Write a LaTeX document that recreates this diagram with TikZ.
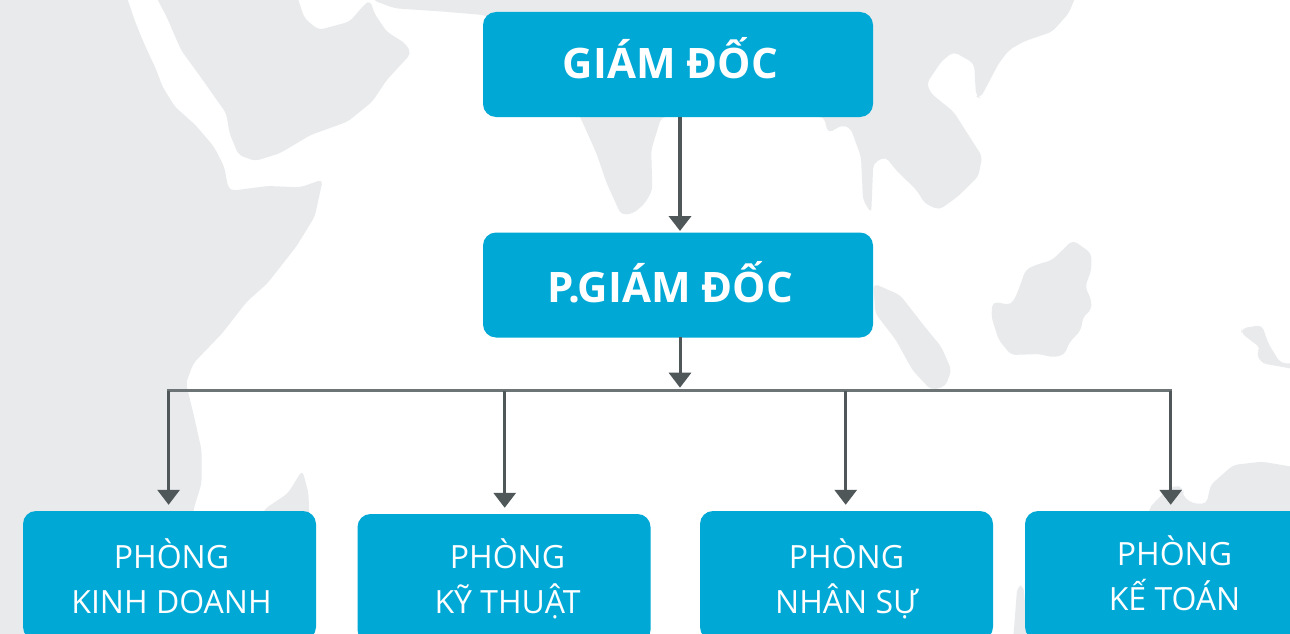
\documentclass[tikz,border=0pt]{standalone}
\usepackage{fontspec}
\setmainfont{Open Sans}
\usetikzlibrary{arrows.meta}
\definecolor{land}{HTML}{E8EAEC}
\definecolor{boxblue}{HTML}{00A8D6}
\definecolor{wire}{HTML}{4F5759}
\definecolor{bus}{HTML}{6C7476}
\tikzset{
  landpart/.style={fill=land,draw=none,rounded corners=5pt},
  topbox/.style={fill=boxblue,draw=none,rounded corners=13pt,minimum width=390pt,minimum height=105pt,inner sep=0pt},
  deptbox/.style={fill=boxblue,draw=none,rounded corners=13pt,minimum width=293pt,minimum height=129pt,inner sep=0pt},
  toptext/.style={text=white,font=\fontsize{42}{50}\selectfont\bfseries,inner sep=0pt},
  depttext/.style={text=white,font=\fontsize{32}{45}\selectfont,align=center,inner sep=0pt},
  tipped/.style={draw=wire,-{Triangle[length=15pt,width=22pt,fill=wire]}},
}
\begin{document}
\begin{tikzpicture}[x=1pt,y=-1pt]
\clip (0,0) rectangle (1290,634);
\fill[white] (0,0) rectangle (1290,634);
\begin{scope}[x=0.41135pt,y=-0.33333pt]
\fill[landpart] (-20,-20) -- (305,-20) -- (330,70) -- (350,130) -- (380,210) -- (395,260) -- (425,320) -- (475,375) -- (520,440) -- (545,500) -- (555,565) -- (565,572) -- (650,558) -- (730,562) -- (785,538) -- (765,650) -- (720,740) -- (650,850) -- (600,905) -- (540,1000) -- (470,1090) -- (452,1150) -- (470,1240) -- (490,1350) -- (490,1450) -- (470,1530) -- (470,1920) -- (-20,1920) -- cycle;
\fill[landpart] (640,1530) -- (700,1480) -- (735,1410) -- (750,1480) -- (752,1560) -- (640,1560) -- cycle;
\fill[landpart] (375,-20) -- (405,50) -- (440,150) -- (490,235) -- (550,340) -- (558,400) -- (580,465) -- (620,483) -- (680,460) -- (755,405) -- (845,365) -- (905,305) -- (940,240) -- (1000,160) -- (985,130) -- (940,95) -- (910,40) -- (900,0) -- (885,15) -- (850,65) -- (775,90) -- (740,55) -- (720,-20) -- cycle;
\fill[landpart] (905,-20) -- (905,0) -- (960,25) -- (1080,35) -- (1175,45) -- (1300,100) -- (1410,350) -- (1450,460) -- (1475,550) -- (1510,645) -- (1540,640) -- (1568,610) -- (1586,570) -- (1583,450) -- (1608,350) -- (2003,350) -- (2013,400) -- (2048,375) -- (2068,385) -- (2093,470) -- (2098,600) -- (2118,640) -- (2123,490) -- (2153,470) -- (2178,510) -- (2228,570) -- (2248,610) -- (2283,630) -- (2328,590) -- (2378,530) -- (2388,470) -- (2318,335) -- (2263,280) -- (2253,250) -- (2288,185) -- (2318,155) -- (2368,190) -- (2373,290) -- (2383,295) -- (2428,190) -- (2453,150) -- (2488,125) -- (2558,95) -- (2598,40) -- (2618,-20) -- cycle;
\fill[landpart] (2123,850) -- (2188,885) -- (2248,980) -- (2288,1040) -- (2313,1110) -- (2298,1160) -- (2263,1170) -- (2218,1110) -- (2178,1020) -- (2128,940) -- cycle;
\fill[landpart] (2608,720) -- (2653,760) -- (2653,810) -- (2638,860) -- (2653,900) -- (2653,930) -- (2633,950) -- (2628,990) -- (2598,1030) -- (2588,1065) -- (2558,1072) -- (2528,1062) -- (2458,1065) -- (2428,1020) -- (2410,950) -- (2413,905) -- (2458,915) -- (2473,880) -- (2493,810) -- (2513,797) -- (2558,780) -- cycle;
\fill[landpart] (3018,985) -- (3068,975) -- (3083,1030) -- (3113,1090) -- (3150,1090) -- (3150,1108) -- (3068,1090) -- (3053,1060) -- (3066,1045) -- (3018,1000) -- cycle;
\fill[landpart] (2793,1525) -- (2828,1480) -- (2858,1455) -- (2878,1465) -- (2873,1485) -- (2898,1510) -- (2933,1512) -- (2943,1455) -- (2998,1395) -- (3068,1385) -- (3150,1402) -- (3150,1920) -- (2793,1920) -- cycle;
\fill[landpart] (2463,1920) -- (2473,1760) -- (2488,1755) -- (2500,1920) -- cycle;
\end{scope}
\node[topbox] (gd) at (678,64.5) {};
\node[topbox] (pgd) at (678,285) {};
\node[deptbox] (d1) at (169.5,575.5) {};
\node[deptbox] (d2) at (504,578.5) {};
\node[deptbox] (d3) at (846.5,575.5) {};
\node[deptbox] (d4) at (1171.5,575.5) {};
\node[toptext] (gdt) at (670.5,58.5) {GIÁM ĐỐC};
\node[toptext] (pgdt) at (670,282.5) {P.GIÁM ĐỐC};
\node[depttext] (d1t) at (171.5,576) {PHÒNG\\KINH DOANH};
\node[depttext] (d2t) at (507.5,579) {PHÒNG\\KỸ THUẬT};
\node[depttext] (d3t) at (846.5,579) {PHÒNG\\NHÂN SỰ};
\node[depttext] (d4t) at (1174.5,573) {PHÒNG\\KẾ TOÁN};
\coordinate (c1) at (680,117);
\coordinate (c2) at (680,233);
\coordinate (c3) at (680,337);
\coordinate (hub) at (680,390.7);
\coordinate (l1) at (168.6,390.7);
\coordinate (l2) at (504.7,390.7);
\coordinate (l3) at (845.7,390.7);
\coordinate (l4) at (1170.7,390.7);
\draw[draw=bus,line width=2.5pt,line cap=rect] (l1) -- (l4);
\draw[tipped,line width=3.8pt,shorten >=2pt] (c1) -- (c2);
\draw[tipped,line width=3pt,shorten >=3pt] (c3) -- (hub);
\draw[tipped,line width=3.2pt,shorten >=6pt] (l1) -- (l1 |- d1.north);
\draw[tipped,line width=3.2pt,shorten >=6pt] (l2) -- (l2 |- d2.north);
\draw[tipped,line width=3.2pt,shorten >=6pt] (l3) -- (l3 |- d3.north);
\draw[tipped,line width=3.2pt,shorten >=6pt] (l4) -- (l4 |- d4.north);
\end{tikzpicture}
\end{document}
